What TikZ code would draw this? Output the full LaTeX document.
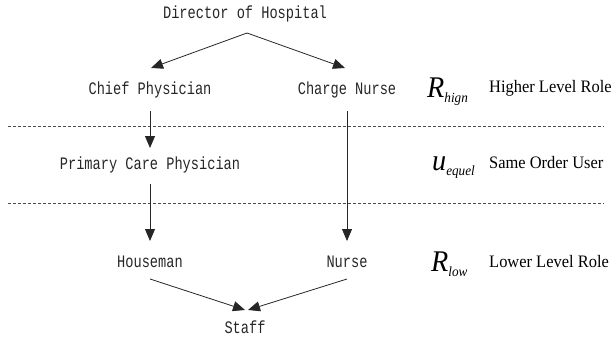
\documentclass[tikz,border=0pt]{standalone}
\usepackage{fontspec}
\newfontfamily\monof[FakeStretch=0.78]{Liberation Mono}
\newfontfamily\seriff[FakeStretch=0.94]{Liberation Serif}
\usetikzlibrary{arrows.meta}
\tikzset{
  lbl/.style={font=\monof\fontsize{17.5}{17.5}\selectfont, anchor=base, inner sep=0pt, text=black!85},
  role/.style={font=\seriff\fontsize{17.5}{17.5}\selectfont, anchor=base west, inner sep=0pt},
  sym/.style={font=\seriff\itshape, anchor=base west, inner sep=0pt},
  conn/.style={-{Triangle[length=12pt,width=10pt]}, line width=0.8pt, black!85},
  sepline/.style={dash pattern=on 3pt off 2pt, line width=0.6pt, black!70}
}
\newcommand{\bigsym}[2]{{\fontsize{30}{30}\selectfont #1}\raisebox{-5pt}{\fontsize{14}{14}\selectfont #2}}
\begin{document}
\begin{tikzpicture}[x=1pt,y=-1pt]
\useasboundingbox (0,0) rectangle (615,337);
% nodes
\node[lbl] (dir) at (245,19) {Director of Hospital};
\node[lbl] (chief) at (150,94) {Chief Physician};
\node[lbl] (charge) at (347,94) {Charge Nurse};
\node[lbl] (pcp) at (150,169) {Primary Care Physician};
\node[lbl] (house) at (150,267) {Houseman};
\node[lbl] (nurse) at (347,267) {Nurse};
\node[lbl] (staff) at (245,333) {Staff};
% right labels
\node[sym] (rh) at (427,97) {\bigsym{R}{hign}};
\node[role] (rhl) at (489,92) {Higher Level Role};
\node[sym] (ue) at (432,170) {\bigsym{u}{equel}};
\node[role] (uel) at (489,168) {Same Order User};
\node[sym] (rl) at (431,271) {\bigsym{R}{low}};
\node[role] (rll) at (489,267) {Lower Level Role};
% separators
\coordinate (d1l) at (8,126); \coordinate (d1r) at (604,126);
\coordinate (d2l) at (8,203); \coordinate (d2r) at (604,203);
\draw[sepline] (d1l) -- (d1r);
\draw[sepline] (d2l) -- (d2r);
% connector points
\coordinate (apex) at (247,33);
\coordinate (tChief) at (151,68);
\coordinate (tCharge) at (345,68);
\coordinate (sChief) at (150,111);
\coordinate (tPcp) at (150,148);
\coordinate (sCharge) at (347,111);
\coordinate (tNurse) at (347,241);
\coordinate (sPcp) at (150,184);
\coordinate (tHouse) at (150,241);
\coordinate (sHouse) at (150,279);
\coordinate (sNurse) at (347,279);
\coordinate (tStaffL) at (245,310);
\coordinate (tStaffR) at (248,310);
% connectors
\draw[conn] (apex) -- (tChief);
\draw[conn] (apex) -- (tCharge);
\draw[conn] (sChief) -- (tPcp);
\draw[conn] (sCharge) -- (tNurse);
\draw[conn] (sPcp) -- (tHouse);
\draw[conn] (sHouse) -- (tStaffL);
\draw[conn] (sNurse) -- (tStaffR);
\end{tikzpicture}
\end{document}
